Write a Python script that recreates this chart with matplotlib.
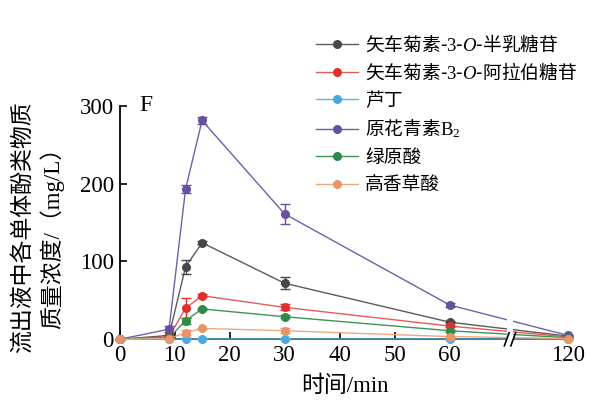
import numpy as np
import matplotlib
matplotlib.use("Agg")
import matplotlib.pyplot as plt
import matplotlib.transforms as mtransforms

plt.rcParams['mathtext.fontset'] = 'custom'
plt.rcParams['mathtext.rm'] = 'Liberation Serif'
plt.rcParams['mathtext.it'] = 'Liberation Serif:italic'
plt.rcParams['mathtext.bf'] = 'Liberation Serif:bold'

SERIF = ['Liberation Serif', 'Noto Sans CJK SC']
CJK = ['Noto Sans CJK SC', 'Liberation Serif']

# ---- data ----
time_min = [0, 9, 12, 15, 30, 60, 120]
labels = [r"矢车菊素-$\mathrm{3}$-$\mathit{O}$-半乳糖苷",
          r"矢车菊素-$\mathrm{3}$-$\mathit{O}$-阿拉伯糖苷",
          "芦丁",
          r"原花青素$\mathrm{B}_\mathrm{2}$",
          "绿原酸",
          "高香草酸"]
cy3gal = [0, 5, 93, 124, 72, 22, 4]
cy3gal_err = [0, 1, 9, 2, 8, 1, 1]
cy3ara = [0, 3, 40, 56, 41, 17, 3]
cy3ara_err = [0, 1, 13, 2, 4, 1, 1]
rutin = [0, 0.3, 0.5, 0.5, 0.5, 0.5, 0.3]
rutin_err = [0, 0, 0, 0, 0, 0, 0]
procyB2 = [0, 13, 193, 281, 161, 44, 5]
procyB2_err = [0, 4, 5, 5, 13, 2, 1]
chlorogenic = [0, 2, 24, 39, 29, 11, 2]
chlorogenic_err = [0, 1, 4, 1, 2, 1, 1]
homovanillic = [0, 1, 8.5, 14, 11, 3.5, 1]
homovanillic_err = [0, 0.5, 3, 1, 3, 1, 0.5]

series = [cy3gal, cy3ara, rutin, procyB2, chlorogenic, homovanillic]
errs = [cy3gal_err, cy3ara_err, rutin_err, procyB2_err, chlorogenic_err, homovanillic_err]
marker_colors = ['#474747', '#e0302e', '#4aa8dc', '#6651a0', '#2e8b46', '#e8956a']
line_colors = ['#5a5a5a', '#e85a5a', '#5fb3e0', '#7060a8', '#3d9455', '#eea77f']

x_ticks = [0, 10, 20, 30, 40, 50, 60, 120]
y_ticks = [0, 100, 200, 300]

# broken x scale: 0-60 linear, 60-120 compressed
K = 21.5 / 60.0
def fwd(x):
    x = np.asarray(x, dtype=float)
    return np.where(x <= 60, x, 60 + (x - 60) * K)
def inv(u):
    u = np.asarray(u, dtype=float)
    return np.where(u <= 60, u, 60 + (u - 60) / K)

fig = plt.figure(figsize=(5.97, 4.05), dpi=100)
ax = fig.add_axes([0.2002, 0.1622, 0.7546, 0.5768])
ax.set_xscale('function', functions=(fwd, inv))

for ys, es, mc, lc, lab in zip(series, errs, marker_colors, line_colors, labels):
    ax.plot(time_min, ys, color=lc, lw=1.0, zorder=3, clip_on=False)
    ax.errorbar(time_min, ys, yerr=es, fmt='none', ecolor=mc, elinewidth=1.0,
                capsize=3.5, capthick=1.0, zorder=3, clip_on=False)
    ax.plot(time_min, ys, 'o', color=mc, ms=6.5, mec='none', zorder=4, clip_on=False)
    ax.plot([], [], '-o', color=lc, mfc=mc, mec='none', ms=6.5, lw=1.0, label=lab)

ax.set_xlim(0, 121)
ax.set_ylim(0, 300)
ax.set_xticks(x_ticks)
ax.set_xticklabels([str(t) for t in x_ticks])
ax.set_yticks(y_ticks)
ax.set_yticklabels([str(t) for t in y_ticks])
ax.tick_params(direction='in', length=5, width=1.2, labelsize=16.5, pad=4)
for lab in ax.get_xticklabels() + ax.get_yticklabels():
    lab.set_family(SERIF)
for s in ['top', 'right']:
    ax.spines[s].set_visible(False)
for s in ['left', 'bottom']:
    ax.spines[s].set_linewidth(1.3)

# axis break
trans = mtransforms.blended_transform_factory(ax.transData, ax.transAxes)
ax.fill_between([89.0, 92.0], [-0.005, -0.005], [1, 1], transform=trans,
                color='white', zorder=5, clip_on=False, lw=0)
for xc in (88.9, 92.2):
    ax.plot([xc - 1.2, xc + 1.2], [-0.028, 0.028], transform=trans, color='black',
            lw=1.2, zorder=6, clip_on=False)

ax.text(0.045, 1.0, 'F', transform=ax.transAxes, fontsize=17, family=SERIF,
        va='center', ha='left')

ax.set_xlabel('时间/min', family=SERIF, fontsize=16.5, labelpad=7)
fig.text(0.037, 0.44, '流出液中各单体酚类物质', rotation=90, family=CJK,
         fontsize=16.5, ha='center', va='center')
fig.text(0.087, 0.425, '质量浓度/（mg/L）', rotation=90, family=SERIF,
         fontsize=16.5, ha='center', va='center')

leg = fig.legend(loc='upper left', bbox_to_anchor=(0.53, 0.915), frameon=False,
                 prop={'family': 'Noto Sans CJK SC', 'size': 13.5},
                 handlelength=2.2, handletextpad=0.4, labelspacing=0.33,
                 borderaxespad=0, borderpad=0)

fig.savefig('out.png', dpi=100)
